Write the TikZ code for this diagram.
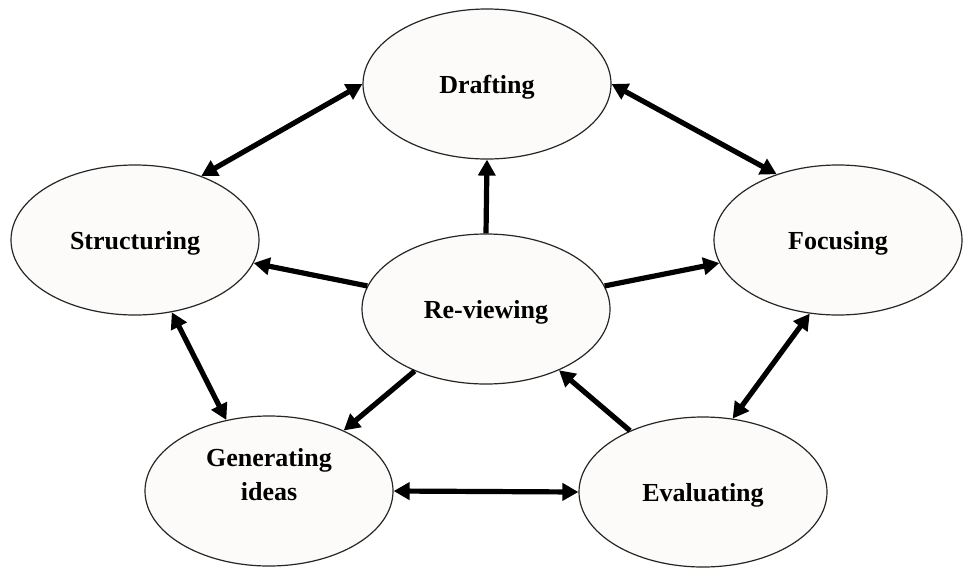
\documentclass[tikz,border=0pt]{standalone}
\usepackage{fontspec}
\setmainfont{Liberation Serif}
\usetikzlibrary{shapes.geometric,arrows.meta}
\definecolor{ovalfill}{HTML}{FCFBFA}
\tikzset{
  stage/.style={ellipse, draw=black!85, line width=1.2pt, fill=ovalfill,
    minimum width=248pt, minimum height=150pt, inner sep=0pt, align=center,
    text depth=0pt, font=\fontsize{26}{34}\selectfont\bfseries},
  link/.style={line width=5.2pt, -{Triangle[length=16pt,width=17pt]}},
  twolink/.style={line width=5.2pt,
    {Triangle[length=16pt,width=17pt]}-{Triangle[length=16pt,width=17pt]}}
}

\begin{document}
\begin{tikzpicture}[x=1pt,y=-1pt]
		%%%%% START %%%%%
		\useasboundingbox (0,0) rectangle (963,568);
		
		\node[stage] (drafting) at (487,84) {Drafting};
		\node[stage] (structuring) at (135,240) {Structuring};
		\node[stage] (focusing) at (838,240) {Focusing};
		\node[stage] (reviewing) at (486,309) {Re-viewing};
		\node[stage] (generating) at (269,491) {Generating\\ideas\\\mbox{}};
		\node[stage] (evaluating) at (703,492) {Evaluating};
		
		\draw[twolink] (drafting.180) -- (structuring.44);
		\draw[twolink] (drafting.0) -- (focusing.133);
		\draw[twolink] (structuring.297) -- (generating.121);
		\draw[twolink] (focusing.249) -- (evaluating.68);
		\draw[twolink] (generating.0) -- (evaluating.180);
		
		\draw[link] (reviewing.90) -- (drafting.270);
		\draw[link] (reviewing.169) -- (structuring.349);
		\draw[link] (reviewing.11) -- (focusing.191);
		\draw[link] (reviewing.221) -- (generating.39);
		\draw[link] (evaluating.140) -- (reviewing.320);
		
		%%%%% END %%%%%
	\end{tikzpicture}
\end{document}
